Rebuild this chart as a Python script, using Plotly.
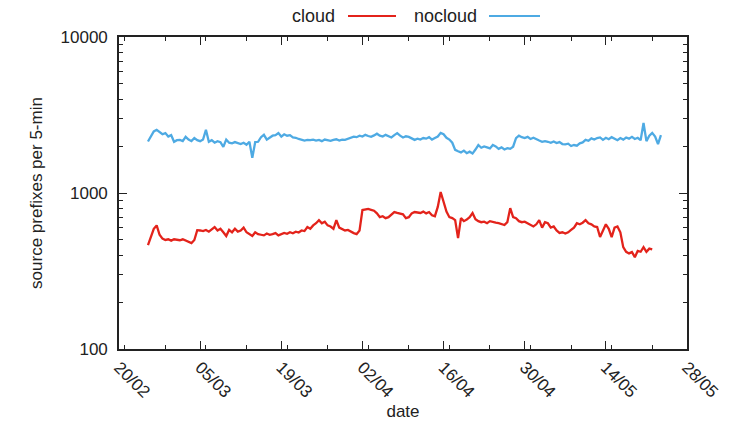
import pandas as pd
import plotly.graph_objects as go

# 12-hour samples starting 25/02
start = "2016-02-25 00:00"

nocloud = [2140, 2300, 2480, 2540, 2450, 2380, 2420, 2300, 2350, 2130, 2180, 2190, 2150, 2290, 2200,
           2150, 2250, 2180, 2150, 2200, 2540, 2130, 2180, 2100, 2150, 2120, 1975, 2200, 2100, 2080,
           2120, 2090, 2060, 2100, 2040, 2130, 1680, 2120, 2130, 2280, 2360, 2200, 2250, 2330, 2350,
           2420, 2300, 2380, 2330, 2350, 2270, 2260, 2220, 2190, 2170, 2190, 2180, 2200, 2170, 2190,
           2150, 2200, 2180, 2160, 2190, 2210, 2170, 2200, 2190, 2230, 2260, 2300, 2280, 2330, 2300,
           2360, 2320, 2290, 2340, 2400, 2330, 2300, 2360, 2320, 2270, 2350, 2420, 2330, 2270, 2310,
           2290, 2240, 2190, 2230, 2200, 2250, 2230, 2280, 2200, 2250, 2300, 2430, 2380, 2260, 2200,
           2100, 1890, 1850, 1820, 1870, 1800, 1840, 1790, 1900, 2030, 1950, 1990, 1960, 1930, 2030,
           1990, 1920, 1960, 1900, 1940, 1920, 1980, 2250, 2330, 2280, 2250, 2290, 2220, 2260, 2200,
           2170, 2130, 2150, 2130, 2100, 2140, 2090, 2120, 2060, 2050, 2070, 2000, 2030, 2010, 2080,
           2110, 2190, 2160, 2240, 2200, 2250, 2270, 2190, 2260, 2210, 2280, 2230, 2180, 2250, 2200,
           2270, 2230, 2290, 2220, 2260, 2180, 2810, 2150, 2330, 2430, 2300, 2060, 2350]

cloud = [463, 520, 590, 620, 540, 510, 500, 505, 495, 505, 500, 498, 505, 495, 485,
         477, 500, 578, 575, 570, 580, 565, 585, 605, 575, 590, 560, 530, 580, 560,
         590, 565, 575, 600, 560, 545, 530, 560, 545, 540, 535, 550, 540, 545, 553,
         535, 545, 555, 548, 560, 552, 565, 558, 575, 570, 605, 590, 620, 640, 670,
         640, 655, 620, 610, 590, 670, 600, 590, 575, 580, 565, 553, 545, 575, 777,
         785, 790, 780, 770, 740, 700, 710, 690, 700, 730, 755, 745, 740, 730, 690,
         700, 740, 755, 750, 745, 760, 740, 755, 720, 710, 815, 1015, 875, 760, 700,
         690, 670, 514, 690, 660, 675, 700, 744, 680, 660, 650, 655, 640, 660, 650,
         645, 640, 630, 623, 650, 800, 700, 690, 660, 650, 655, 640, 620, 610, 630,
         670, 600, 650, 640, 600, 610, 575, 555, 560, 550, 560, 580, 600, 640, 630,
         645, 670, 640, 630, 610, 605, 522, 570, 630, 590, 522, 600, 610, 560, 450,
         420, 410, 418, 388, 425, 420, 450, 420, 440, 435]

x_tick_start = "2016-02-20"
x_tick_end = "2016-05-28"
y_tickvals = [100, 1000, 10000]
y_ticktext = ["100", "1000", "10000"]

t_nc = pd.date_range(start, periods=len(nocloud), freq="12h")
t_c = pd.date_range(start, periods=len(cloud), freq="12h")

RED = "#e3231b"
BLUE = "#4eaae3"
INK = "#222222"
FONT = "Liberation Sans, Arial, Helvetica, sans-serif"

# plot area in page pixels
PL, PR, PT, PB = 119, 687, 37, 349
PW, PH = PR - PL, PB - PT


def px(xp):
    return (xp - PL) / PW


def py(yp):
    return (PB - yp) / PH


fig = go.Figure()
fig.add_trace(go.Scatter(x=t_c, y=cloud, mode="lines", name="cloud",
                         line=dict(color=RED, width=2.3)))
fig.add_trace(go.Scatter(x=t_nc, y=nocloud, mode="lines", name="nocloud",
                         line=dict(color=BLUE, width=2.3)))

# gnuplot-style legend: label followed by a line sample
LEG_Y = 16
for label, xr, x0, x1, c in [("cloud", 337, 348, 396, RED), ("nocloud", 479, 489, 540, BLUE)]:
    fig.add_annotation(xref="paper", yref="paper", x=px(xr), y=py(LEG_Y),
                       text=label, showarrow=False, xanchor="right", yanchor="middle",
                       font=dict(size=18, color=INK, family=FONT))
    fig.add_shape(type="line", xref="paper", yref="paper",
                  x0=px(x0), x1=px(x1), y0=py(LEG_Y), y1=py(LEG_Y),
                  line=dict(color=c, width=2.2))

fig.update_layout(
    width=744, height=422,
    margin=dict(l=PL, r=744 - PR, t=PT, b=422 - PB),
    paper_bgcolor="white", plot_bgcolor="white",
    font=dict(family=FONT, size=17, color=INK),
    showlegend=False,
)
fig.update_xaxes(
    type="date", range=[x_tick_start, x_tick_end],
    tick0=x_tick_start, dtick=14 * 86400000, tickformat="%d/%m",
    tickangle=45, ticks="inside", ticklen=8, tickwidth=1.2, tickcolor=INK,
    minor=dict(dtick=7 * 86400000, ticks="inside", ticklen=4, tickwidth=1.2, tickcolor=INK),
    showline=True, linecolor=INK, linewidth=1.6, mirror="allticks",
    showgrid=False, zeroline=False, automargin=False,
    title=dict(text="date", standoff=4, font=dict(size=17)),
    tickfont=dict(size=17),
)
fig.update_yaxes(
    type="log", range=[2, 4], tickvals=y_tickvals, ticktext=y_ticktext,
    ticks="inside", ticklen=8, tickwidth=1.2, tickcolor=INK,
    minor=dict(dtick="D1", ticks="inside", ticklen=4, tickwidth=1.2, tickcolor=INK),
    showline=True, linecolor=INK, linewidth=1.6, mirror="allticks",
    showgrid=False, zeroline=False, automargin=False,
    title=dict(text="source prefixes per 5-min", standoff=14, font=dict(size=17)),
    tickfont=dict(size=17), ticklabelstandoff=6,
)

fig.write_html("out.html", config={"displayModeBar": False},
               post_script="document.body.style.margin='0';")
